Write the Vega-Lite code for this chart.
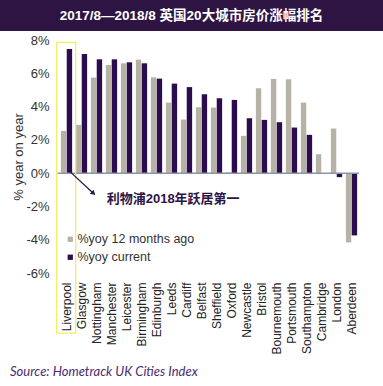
{
  "$schema": "https://vega.github.io/schema/vega-lite/v6.json",
  "autosize": {"type": "none"},
  "width": 300,
  "height": 233,
  "padding": {"left": 59, "top": 40, "right": 24, "bottom": 113},
  "background": "white",
  "config": {"view": {"stroke": null}, "font": "Liberation Sans"},
  "datasets": {
    "bars": [
      {"city": "Liverpool", "series": "%yoy 12 months ago", "value": 2.54},
      {"city": "Liverpool", "series": "%yoy current", "value": 7.46},
      {"city": "Glasgow", "series": "%yoy 12 months ago", "value": 2.9},
      {"city": "Glasgow", "series": "%yoy current", "value": 7.16},
      {"city": "Nottingham", "series": "%yoy 12 months ago", "value": 5.74},
      {"city": "Nottingham", "series": "%yoy current", "value": 6.84},
      {"city": "Manchester", "series": "%yoy 12 months ago", "value": 6.5},
      {"city": "Manchester", "series": "%yoy current", "value": 6.84},
      {"city": "Leicester", "series": "%yoy 12 months ago", "value": 6.6},
      {"city": "Leicester", "series": "%yoy current", "value": 6.66},
      {"city": "Birmingham", "series": "%yoy 12 months ago", "value": 6.82},
      {"city": "Birmingham", "series": "%yoy current", "value": 6.6},
      {"city": "Edinburgh", "series": "%yoy 12 months ago", "value": 5.76},
      {"city": "Edinburgh", "series": "%yoy current", "value": 5.68},
      {"city": "Leeds", "series": "%yoy 12 months ago", "value": 4.24},
      {"city": "Leeds", "series": "%yoy current", "value": 5.38},
      {"city": "Cardiff", "series": "%yoy 12 months ago", "value": 3.22},
      {"city": "Cardiff", "series": "%yoy current", "value": 5.17},
      {"city": "Belfast", "series": "%yoy 12 months ago", "value": 3.96},
      {"city": "Belfast", "series": "%yoy current", "value": 4.74},
      {"city": "Sheffield", "series": "%yoy 12 months ago", "value": 3.94},
      {"city": "Sheffield", "series": "%yoy current", "value": 4.5},
      {"city": "Oxford", "series": "%yoy 12 months ago", "value": 0.05},
      {"city": "Oxford", "series": "%yoy current", "value": 4.4},
      {"city": "Newcastle", "series": "%yoy 12 months ago", "value": 2.24},
      {"city": "Newcastle", "series": "%yoy current", "value": 3.3},
      {"city": "Bristol", "series": "%yoy 12 months ago", "value": 5.1},
      {"city": "Bristol", "series": "%yoy current", "value": 3.2},
      {"city": "Bournemouth", "series": "%yoy 12 months ago", "value": 5.66},
      {"city": "Bournemouth", "series": "%yoy current", "value": 3.06},
      {"city": "Portsmouth", "series": "%yoy 12 months ago", "value": 5.64},
      {"city": "Portsmouth", "series": "%yoy current", "value": 2.74},
      {"city": "Southampton", "series": "%yoy 12 months ago", "value": 4.24},
      {"city": "Southampton", "series": "%yoy current", "value": 2.3},
      {"city": "Cambridge", "series": "%yoy 12 months ago", "value": 1.14},
      {"city": "Cambridge", "series": "%yoy current", "value": -0.05},
      {"city": "London", "series": "%yoy 12 months ago", "value": 2.68},
      {"city": "London", "series": "%yoy current", "value": -0.24},
      {"city": "Aberdeen", "series": "%yoy 12 months ago", "value": -4.16},
      {"city": "Aberdeen", "series": "%yoy current", "value": -3.74}
    ],
    "banner": [{"u0": -5, "u1": 23, "v0": 8.54, "v1": 11}],
    "titles": [
      {"u": 8.83, "v": 9.44, "label": "2017/8—2018/8 英国20大城市房价涨幅排名"}
    ],
    "notes": [
      {"u": 3.18, "v": -1.56, "label": "利物浦2018年跃居第一"}
    ],
    "source": [
      {"u": -3.27, "v": -11.93, "label": "Source: Hometrack UK Cities Index"}
    ],
    "zero": [{"u0": -0.1, "u1": 20, "v": 0}],
    "box": [{"u0": -0.15, "u1": 1.11, "v0": 7.86, "v1": -9.61}],
    "arrow": [{"u0": 0.73, "v0": 0.09, "u1": 2.25, "v1": -1.18}],
    "arrowhead": [{"u": 2.3, "v": -1.22}]
  },
  "layer": [
    {
      "data": {"name": "bars"},
      "mark": {"type": "bar"},
      "encoding": {
        "x": {
          "field": "city", "type": "nominal", "sort": null,
          "scale": {"paddingInner": 0.25, "paddingOuter": 0.125},
          "axis": {"title": null, "labelAngle": -90, "labelFontSize": 12, "labelColor": "#222222", "labelPadding": 9, "domain": false, "ticks": false, "labelFont": "Liberation Sans"}
        },
        "xOffset": {"field": "series", "type": "nominal", "scale": {"paddingInner": 0.08}},
        "y": {
          "field": "value", "type": "quantitative",
          "scale": {"domain": [-6, 8], "nice": false, "zero": false},
          "axis": {"title": "% year on year", "titleFontSize": 13, "titleFontWeight": "normal", "titleColor": "#333333", "titlePadding": 0, "values": [-6, -4, -2, 0, 2, 4, 6, 8], "labelExpr": "datum.value + '%'", "labelFontSize": 13, "labelColor": "#333333", "labelPadding": 10, "domain": false, "ticks": false, "grid": false}
        },
        "color": {
          "field": "series", "type": "nominal",
          "scale": {"domain": ["%yoy 12 months ago", "%yoy current"], "range": ["#b7b2a6", "#2b0d4d"]},
          "legend": {"title": null, "orient": "none", "legendX": 5, "legendY": 193, "symbolType": "square", "symbolSize": 28, "labelFontSize": 12.5, "labelColor": "#333333", "labelOffset": 1, "rowPadding": 5, "padding": 0}
        }
      }
    },
    {
      "data": {"name": "zero"},
      "mark": {"type": "rule", "color": "#8e94a8", "strokeWidth": 1.5},
      "encoding": {
        "x": {"field": "u0", "type": "quantitative", "scale": {"domain": [0, 20], "nice": false, "zero": false}, "axis": null},
        "x2": {"field": "u1"},
        "y": {"field": "v", "type": "quantitative", "scale": {"domain": [-6, 8], "nice": false, "zero": false}, "axis": null}
      }
    },
    {
      "data": {"name": "banner"},
      "mark": {"type": "rect", "color": "#2e1443"},
      "encoding": {
        "x": {"field": "u0", "type": "quantitative", "scale": {"domain": [0, 20], "nice": false, "zero": false}, "axis": null},
        "x2": {"field": "u1"},
        "y": {"field": "v0", "type": "quantitative", "scale": {"domain": [-6, 8], "nice": false, "zero": false}, "axis": null},
        "y2": {"field": "v1"}
      }
    },
    {
      "data": {"name": "titles"},
      "mark": {"type": "text", "color": "white", "fontWeight": "bold", "fontSize": 13.5, "font": "Liberation Sans, Noto Sans CJK SC", "align": "center", "baseline": "middle"},
      "encoding": {
        "x": {"field": "u", "type": "quantitative", "scale": {"domain": [0, 20], "nice": false, "zero": false}, "axis": null},
        "y": {"field": "v", "type": "quantitative", "scale": {"domain": [-6, 8], "nice": false, "zero": false}, "axis": null},
        "text": {"field": "label"}
      }
    },
    {
      "data": {"name": "box"},
      "mark": {"type": "rect", "fillOpacity": 0, "stroke": "#f2ee5c", "strokeWidth": 1.3},
      "encoding": {
        "x": {"field": "u0", "type": "quantitative", "scale": {"domain": [0, 20], "nice": false, "zero": false}, "axis": null},
        "x2": {"field": "u1"},
        "y": {"field": "v0", "type": "quantitative", "scale": {"domain": [-6, 8], "nice": false, "zero": false}, "axis": null},
        "y2": {"field": "v1"}
      }
    },
    {
      "data": {"name": "arrow"},
      "mark": {"type": "rule", "color": "#2a1a3e", "strokeWidth": 1.3},
      "encoding": {
        "x": {"field": "u0", "type": "quantitative", "scale": {"domain": [0, 20], "nice": false, "zero": false}, "axis": null},
        "x2": {"field": "u1"},
        "y": {"field": "v0", "type": "quantitative", "scale": {"domain": [-6, 8], "nice": false, "zero": false}, "axis": null},
        "y2": {"field": "v1"}
      }
    },
    {
      "data": {"name": "arrowhead"},
      "mark": {"type": "point", "shape": "triangle-up", "angle": 133, "size": 30, "filled": true, "color": "#2a1a3e", "opacity": 1},
      "encoding": {
        "x": {"field": "u", "type": "quantitative", "scale": {"domain": [0, 20], "nice": false, "zero": false}, "axis": null},
        "y": {"field": "v", "type": "quantitative", "scale": {"domain": [-6, 8], "nice": false, "zero": false}, "axis": null}
      }
    },
    {
      "data": {"name": "notes"},
      "mark": {"type": "text", "color": "#2b1546", "fontWeight": "bold", "fontSize": 13, "font": "Liberation Sans, Noto Sans CJK SC", "align": "left", "baseline": "middle"},
      "encoding": {
        "x": {"field": "u", "type": "quantitative", "scale": {"domain": [0, 20], "nice": false, "zero": false}, "axis": null},
        "y": {"field": "v", "type": "quantitative", "scale": {"domain": [-6, 8], "nice": false, "zero": false}, "axis": null},
        "text": {"field": "label"}
      }
    },
    {
      "data": {"name": "source"},
      "mark": {"type": "text", "color": "#4a2a72", "fontStyle": "italic", "fontSize": 13, "font": "Lato", "align": "left", "baseline": "middle"},
      "encoding": {
        "x": {"field": "u", "type": "quantitative", "scale": {"domain": [0, 20], "nice": false, "zero": false}, "axis": null},
        "y": {"field": "v", "type": "quantitative", "scale": {"domain": [-6, 8], "nice": false, "zero": false}, "axis": null},
        "text": {"field": "label"}
      }
    }
  ],
  "resolve": {"scale": {"x": "independent"}, "axis": {"y": "independent"}}
}
